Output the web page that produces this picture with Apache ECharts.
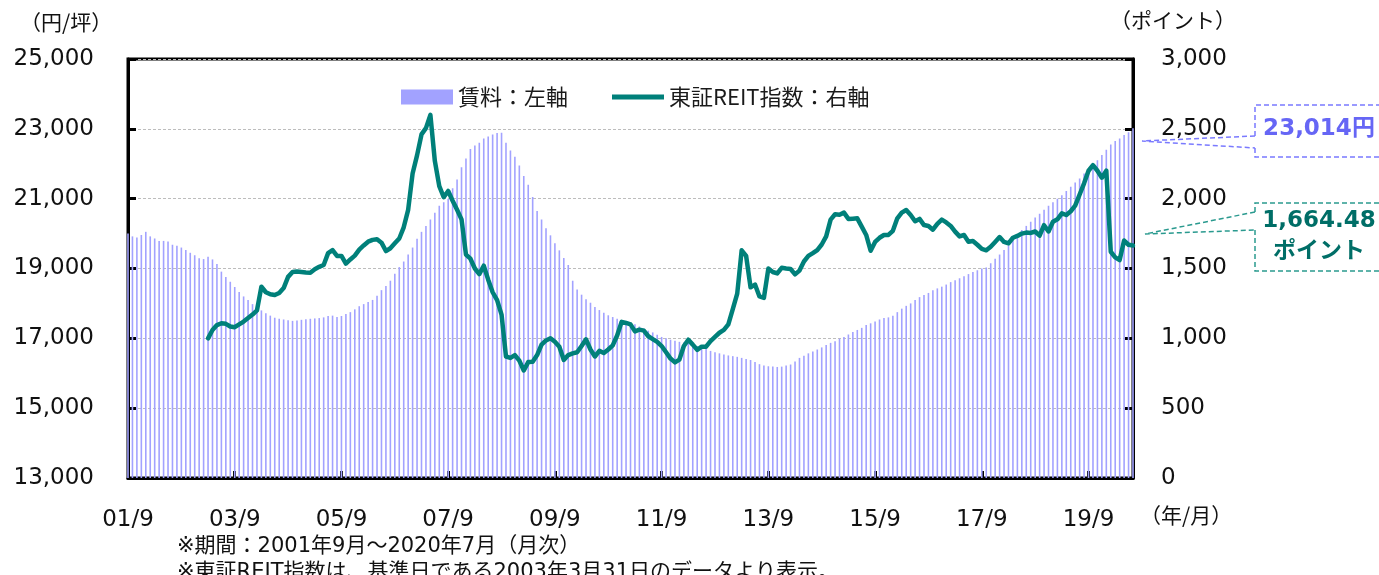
<!DOCTYPE html>
<html>
<head>
<meta charset="utf-8">
<script src="https://cdn.jsdelivr.net/npm/echarts@6/dist/echarts.min.js"></script>
<style>
  html, body { margin: 0; padding: 0; background: #fff; }
  #chart { width: 1379px; height: 575px; }
</style>
</head>
<body>
<div id="chart"></div>
<script>
// 賃料（円/坪） 2001/9 〜 2020/7 月次
const rent = [
  20000, 19920, 19890, 19960,                                                    // 2001/9-12
  20050, 19920, 19860, 19790, 19790, 19770, 19680, 19650, 19600, 19530, 19450, 19380, // 2002
  19290, 19270, 19340, 19260, 19130, 18910, 18760, 18620, 18470, 18330, 18200, 18100, // 2003
  17980, 17900, 17800, 17720, 17650, 17590, 17560, 17540, 17520, 17500, 17510, 17530, // 2004
  17550, 17560, 17570, 17580, 17600, 17640, 17650, 17610, 17640, 17700, 17750, 17830, // 2005
  17920, 17980, 18040, 18100, 18220, 18380, 18500, 18650, 18850, 19040, 19200, 19400, // 2006
  19600, 19850, 20050, 20220, 20400, 20600, 20800, 20900, 21000, 21300, 21550, 21900, // 2007
  22150, 22420, 22520, 22600, 22720, 22780, 22840, 22880, 22890, 22600, 22380, 22200, // 2008
  21950, 21650, 21400, 21050, 20650, 20400, 20150, 19950, 19720, 19520, 19300, 19100, // 2009
  18650, 18400, 18250, 18120, 18020, 17900, 17810, 17730, 17660, 17610, 17560, 17520, // 2010
  17480, 17450, 17400, 17340, 17280, 17220, 17170, 17100, 17040, 17000, 16960, 16930, // 2011
  16900, 16880, 16860, 16830, 16780, 16740, 16700, 16640, 16600, 16570, 16540, 16510, // 2012
  16490, 16470, 16440, 16410, 16380, 16320, 16260, 16220, 16200, 16190, 16180, 16190, // 2013
  16220, 16250, 16340, 16440, 16500, 16570, 16620, 16680, 16740, 16810, 16870, 16920, // 2014
  16990, 17040, 17110, 17180, 17240, 17300, 17380, 17430, 17480, 17540, 17580, 17600, // 2015
  17650, 17750, 17850, 17930, 18000, 18100, 18180, 18240, 18300, 18380, 18430, 18480, // 2016
  18540, 18610, 18660, 18720, 18780, 18840, 18900, 18950, 19000, 19030, 19150, 19280, // 2017
  19400, 19530, 19650, 19800, 19980, 20100, 20220, 20340, 20460, 20570, 20680, 20800, // 2018
  20900, 21000, 21100, 21220, 21340, 21460, 21580, 21720, 21850, 21960, 22100, 22250, // 2019
  22400, 22550, 22650, 22720, 22820, 22900, 23014                                  // 2020/1-7
];

// 東証REIT指数（ポイント） 2003/3 〜 2020/7
const reit = [
  1000, 1060, 1095, 1108, 1104, 1085, 1080, 1100, 1120, 1145,                     // 2003/3-12
  1170, 1200, 1370, 1330, 1315, 1310, 1325, 1360, 1440, 1475, 1478, 1475,         // 2004
  1472, 1470, 1495, 1512, 1525, 1610, 1632, 1590, 1590, 1535, 1565, 1592,         // 2005
  1635, 1665, 1692, 1705, 1710, 1685, 1625, 1645, 1680, 1715, 1795, 1920,         // 2006
  2180, 2310, 2460, 2505, 2600, 2270, 2090, 2010, 2055, 1985, 1920, 1852,         // 2007
  1600, 1570, 1500, 1460, 1520, 1420, 1330, 1274, 1170, 870, 860, 880,            // 2008
  840, 770, 830, 833, 880, 955, 985, 1000, 975, 940, 845, 880,                    // 2009
  892, 900, 945, 993, 920, 870, 910, 895, 920, 950, 1020, 1118,                   // 2010
  1110, 1100, 1050, 1062, 1055, 1015, 995, 975, 945, 900, 855, 828,               // 2011
  848, 945, 990, 955, 918, 940, 940, 980, 1010, 1040, 1060, 1100,                 // 2012
  1210, 1320, 1630, 1590, 1365, 1385, 1300, 1290, 1500, 1475, 1465, 1505,         // 2013
  1500, 1496, 1458, 1485, 1550, 1590, 1610, 1632, 1672, 1730, 1850, 1888,         // 2014
  1885, 1900, 1855, 1857, 1859, 1800, 1740, 1627, 1690, 1720, 1740, 1740,         // 2015
  1770, 1859, 1900, 1919, 1883, 1838, 1855, 1811, 1804, 1778, 1820, 1850,         // 2016
  1830, 1805, 1764, 1730, 1740, 1692, 1697, 1670, 1640, 1630, 1656, 1690,         // 2017
  1725, 1690, 1680, 1720, 1733, 1750, 1757, 1755, 1765, 1735, 1810, 1765,         // 2018
  1835, 1852, 1895, 1883, 1910, 1950, 2030, 2110, 2200, 2240, 2200, 2150,         // 2019
  2200, 1620, 1580, 1560, 1700, 1670, 1664.48                                     // 2020/1-7
];

const rentTicks = [13000, 25000, 2000];   // min, max, interval
const reitTicks = [0, 3000, 500];

// 月のカテゴリ "01/9" 形式
const months = [];
for (let y = 2001, m = 9; ; m++) {
  if (m > 12) { m = 1; y++; }
  if (y === 2020 && m > 7) break;
  months.push(String(y).slice(2) + '/' + m);
}
const reitStart = months.indexOf('03/3');
const reitData = months.map((_, i) => (i < reitStart ? '-' : reit[i - reitStart]));

const FONT = "'DejaVu Sans', 'Noto Sans CJK JP', sans-serif";
const JP = "'Noto Sans CJK JP', sans-serif";
const every24 = (i) => i % 24 === 0;

const myChart = echarts.init(document.getElementById('chart'));

const options = {
  animation: false,
  backgroundColor: '#fff',
  grid: {
    left: 128, right: 246, top: 59, bottom: 97,
    show: true, borderColor: '#000', borderWidth: 3
  },
  legend: {
    left: 401, top: 86, padding: 0,
    itemWidth: 52, itemHeight: 15, itemGap: 44,
    textStyle: { fontSize: 22, color: '#1a1a1a', fontFamily: JP },
    data: [
      { name: '賃料：左軸', icon: 'rect' },
      // 線だけのアイコン（52x5）
      { name: '東証REIT指数：右軸', icon: 'path://M0,0 L100,0 L100,10 L0,10 Z' }
    ]
  },
  xAxis: {
    type: 'category',
    data: months,
    boundaryGap: false,
    axisLine: { lineStyle: { color: '#000', width: 3 } },
    axisTick: { inside: true, length: 7, interval: every24, lineStyle: { color: '#000', width: 3 } },
    axisLabel: {
      interval: every24, margin: 31,
      fontSize: 23, color: '#111', fontFamily: FONT
    },
    splitLine: { show: false }
  },
  yAxis: [
    {
      type: 'value',
      min: rentTicks[0], max: rentTicks[1], interval: rentTicks[2],
      axisLine: { show: true, lineStyle: { color: '#000', width: 3 } },
      axisTick: { show: true, inside: true, length: 8, lineStyle: { color: '#000', width: 3 } },
      axisLabel: {
        margin: 34, fontSize: 23, color: '#111', fontFamily: FONT,
        formatter: (v) => v.toLocaleString('en-US')
      },
      splitLine: { show: true, lineStyle: { color: '#bdbdbd', width: 1, type: [3, 2] } }
    },
    {
      type: 'value',
      min: reitTicks[0], max: reitTicks[1], interval: reitTicks[2],
      axisLine: { show: true, lineStyle: { color: '#000', width: 3 } },
      axisTick: { show: true, inside: true, length: 8, lineStyle: { color: '#000', width: 3 } },
      axisLabel: {
        margin: 28, fontSize: 23, color: '#111', fontFamily: FONT,
        formatter: (v) => v.toLocaleString('en-US')
      },
      splitLine: { show: false }
    }
  ],
  series: [
    {
      name: '賃料：左軸',
      type: 'bar',
      yAxisIndex: 0,
      data: rent,
      barWidth: 1.6,
      itemStyle: { color: '#a2a2ff' }
    },
    {
      name: '東証REIT指数：右軸',
      type: 'line',
      yAxisIndex: 1,
      data: reitData,
      symbol: 'none',
      connectNulls: false,
      lineStyle: { color: '#00807a', width: 4.5, join: 'round', cap: 'round' },
      itemStyle: { color: '#00807a' },
      z: 5
    }
  ],
  graphic: [
    { type: 'text', left: 20, top: 12, style: { text: '（円/坪）', font: '21px ' + JP, fill: '#111' } },
    { type: 'text', left: 1110, top: 10, style: { text: '（ポイント）', font: '21px ' + JP, fill: '#111' } },
    { type: 'text', left: 1140, top: 505, style: { text: '（年/月）', font: '21px ' + JP, fill: '#111' } },
    { type: 'text', left: 177, top: 536, style: { text: '※期間：2001年9月～2020年7月（月次）', font: '21px ' + FONT, fill: '#111' } },
    { type: 'text', left: 177, top: 562, style: { text: '※東証REIT指数は、基準日である2003年3月31日のデータより表示。', font: '21px ' + FONT, fill: '#111' } },
    // 賃料の吹き出し
    {
      type: 'polyline', shape: { points: [[1255, 136], [1142, 141], [1255, 148]] },
      style: { stroke: '#7a7aff', lineWidth: 1.5, lineDash: [5, 3], fill: null }
    },
    {
      type: 'polyline', shape: { points: [[1255, 136], [1255, 105], [1390, 105]] },
      style: { stroke: '#7a7aff', lineWidth: 1.5, lineDash: [5, 3], fill: null }
    },
    {
      type: 'polyline', shape: { points: [[1255, 148], [1255, 157], [1390, 157]] },
      style: { stroke: '#7a7aff', lineWidth: 1.5, lineDash: [5, 3], fill: null }
    },
    {
      type: 'text', x: 1319, y: 129,
      style: { text: '23,014円', font: 'bold 23px ' + FONT, fill: '#6666f5', align: 'center', verticalAlign: 'middle' }
    },
    // REIT指数の吹き出し
    {
      type: 'polyline', shape: { points: [[1255, 212], [1145, 234], [1255, 230]] },
      style: { stroke: '#2a9a8f', lineWidth: 1.5, lineDash: [5, 3], fill: null }
    },
    {
      type: 'polyline', shape: { points: [[1255, 212], [1255, 203], [1390, 203]] },
      style: { stroke: '#2a9a8f', lineWidth: 1.5, lineDash: [5, 3], fill: null }
    },
    {
      type: 'polyline', shape: { points: [[1255, 230], [1255, 271], [1390, 271]] },
      style: { stroke: '#2a9a8f', lineWidth: 1.5, lineDash: [5, 3], fill: null }
    },
    {
      type: 'text', x: 1319, y: 221,
      style: { text: '1,664.48', font: 'bold 23px ' + FONT, fill: '#006e67', align: 'center', verticalAlign: 'middle' }
    },
    {
      type: 'text', x: 1319, y: 249,
      style: { text: 'ポイント', font: 'bold 23px ' + JP, fill: '#006e67', align: 'center', verticalAlign: 'middle' }
    }
  ]
};

myChart.setOption(options);
</script>
</body>
</html>
